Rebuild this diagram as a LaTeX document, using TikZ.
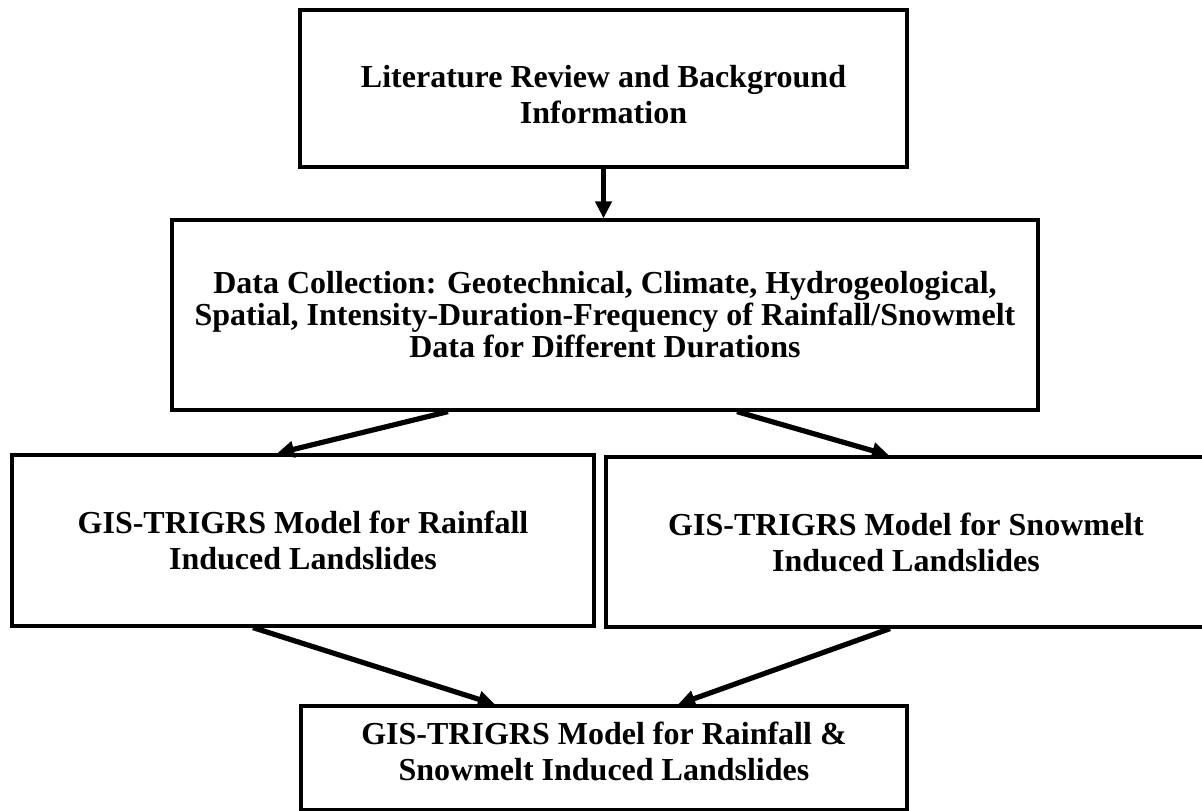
\documentclass[tikz,border=0pt]{standalone}
\usepackage{fontspec}
\setmainfont{Liberation Serif}
\usetikzlibrary{arrows.meta}

\tikzset{
  box/.style={draw, line width=1.6pt, align=center, inner sep=0pt,
    font=\bfseries\fontsize{16}{18}\selectfont},
  arr/.style={line width=2.6pt, -{Triangle[length=8.5pt,width=8pt]}}
}

\begin{document}
\begin{tikzpicture}[x=0.5pt,y=-0.5pt]
      \useasboundingbox (0,0) rectangle (1202,810);
      \node[box, minimum width=303.5pt, minimum height=78.5pt] (lit) at (603.5,88.5)
        {\rule{0pt}{17pt}Literature Review and Background\\Information};
      \node[box, minimum width=433pt, minimum height=95pt,
            font=\bfseries\fontsize{16}{16}\selectfont] (data) at (605,315)
        {Data Collection: Geotechnical, Climate, Hydrogeological,\\
         Spatial, Intensity-Duration-Frequency of Rainfall/Snowmelt\\
         Data for Different Durations};
      \node[box, minimum width=291pt, minimum height=85.5pt] (rain) at (303,540.5)
        {GIS-TRIGRS Model for Rainfall\\Induced Landslides};
      \node[box, minimum width=300pt, minimum height=85pt] (snow) at (906,542)
        {GIS-TRIGRS Model for Snowmelt\\Induced Landslides};
      \node[box, minimum width=303pt, minimum height=52pt] (both) at (604,758)
        {GIS-TRIGRS Model for Rainfall \&\\Snowmelt Induced Landslides\rule[-7pt]{0pt}{7pt}};

      \draw[arr] (lit.south) -- (lit.south |- data.north);
      \draw[arr] ([xshift=-78.5pt]data.south) -- ([xshift=-13pt]rain.north);
      \draw[arr] ([xshift=66pt]data.south) -- ([xshift=-8.5pt]snow.north);
      \draw[arr] ([xshift=-25pt]rain.south) -- ([xshift=-54.5pt]both.north);
      \draw[arr] ([xshift=-8pt]snow.south) -- ([xshift=37pt]both.north);
    \end{tikzpicture}
\end{document}
